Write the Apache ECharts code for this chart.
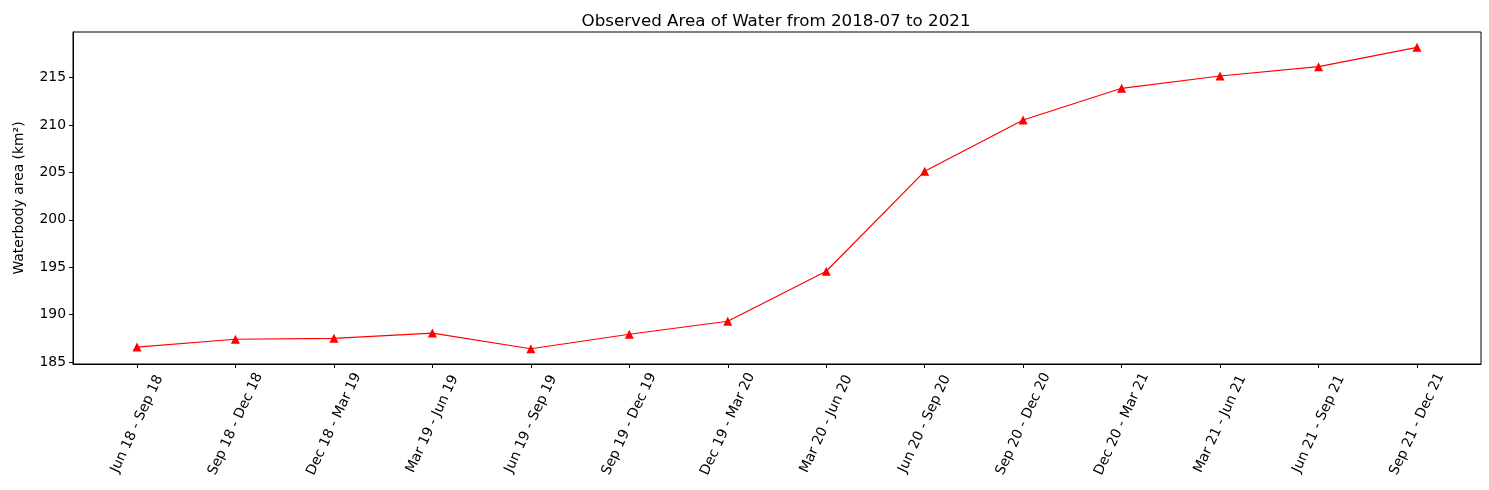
<!DOCTYPE html>
<html>
<head>
<meta charset="utf-8">
<script src="https://cdn.jsdelivr.net/npm/echarts@6/dist/echarts.min.js"></script>
<style>html,body{margin:0;padding:0;background:#fff}#c{width:1489px;height:490px}</style>
</head>
<body>
<div id="c"></div>
<script>
const categories = ["Jun 18 - Sep 18","Sep 18 - Dec 18","Dec 18 - Mar 19","Mar 19 - Jun 19","Jun 19 - Sep 19","Sep 19 - Dec 19","Dec 19 - Mar 20","Mar 20 - Jun 20","Jun 20 - Sep 20","Sep 20 - Dec 20","Dec 20 - Mar 21","Mar 21 - Jun 21","Jun 21 - Sep 21","Sep 21 - Dec 21"];
const areaValues = [186.58, 187.40, 187.50, 188.05, 186.40, 187.93, 189.30, 194.58, 205.12, 210.54, 213.88, 215.18, 216.16, 218.20];
const yTicks = [185, 190, 195, 200, 205, 210, 215];

const xIdx = categories.map((_, i) => i);
const font = 'DejaVu Sans';
const chart = echarts.init(document.getElementById('c'), null, {renderer: 'canvas'});
chart.setOption({
  animation: false,
  backgroundColor: '#fff',
  title: {
    text: 'Observed Area of Water from 2018-07 to 2021',
    left: 771, top: 8, textAlign: 'center',
    textStyle: {fontFamily: font, fontSize: 16.7, fontWeight: 'normal', color: '#000'}
  },
  grid: {left: 73, right: 8, top: 32, bottom: 126, show: true, borderColor: '#000', borderWidth: 1, backgroundColor: 'transparent'},
  xAxis: {
    type: 'value', min: -0.65, max: 13.65,
    axisLine: {show: true, onZero: false, lineStyle: {color: '#000', width: 1}},
    axisTick: {show: true, length: 4, customValues: xIdx, lineStyle: {color: '#000'}},
    axisLabel: {
      customValues: xIdx, rotate: 65, margin: 60, align: 'center', verticalAlign: 'middle',
      fontFamily: font, fontSize: 13.9, color: '#000',
      formatter: v => categories[Math.round(v)] || ''
    },
    splitLine: {show: false}
  },
  yAxis: {
    type: 'value', min: 184.79, max: 219.82,
    name: 'Waterbody area (km²)', nameLocation: 'middle', nameGap: 47, nameRotate: 90,
    nameTextStyle: {fontFamily: font, fontSize: 13.9, color: '#000'},
    axisLine: {show: true, onZero: false, lineStyle: {color: '#000', width: 1}},
    axisTick: {show: true, length: 4, customValues: yTicks, lineStyle: {color: '#000'}},
    axisLabel: {customValues: yTicks, margin: 7, fontFamily: font, fontSize: 13.9, color: '#000'},
    splitLine: {show: false}
  },
  series: [{
    type: 'line',
    data: areaValues.map((v, i) => [i, v]),
    symbol: 'triangle', symbolSize: 9, showAllSymbol: true,
    lineStyle: {color: '#ff0000', width: 1.2},
    itemStyle: {color: '#ff0000'}
  }]
});
</script>
</body>
</html>
